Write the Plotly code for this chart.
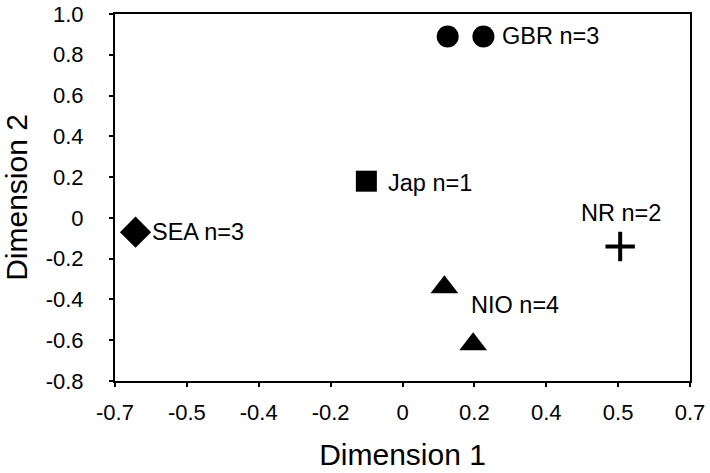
import plotly.graph_objects as go

# Data
gbr_x = [0.11, 0.197]
gbr_y = [0.89, 0.89]
jap_x = [-0.088]
jap_y = [0.18]
sea_x = [-0.65]
sea_y = [-0.07]
nio_x = [0.102, 0.172]
nio_y = [-0.34, -0.62]
nr_x = [0.53]
nr_y = [-0.14]

x_tickvals = [-0.7, -0.525, -0.35, -0.175, 0, 0.175, 0.35, 0.525, 0.7]
x_ticktext = ["-0.7", "-0.5", "-0.4", "-0.2", "0", "0.2", "0.4", "0.5", "0.7"]
y_tickvals = [1.0, 0.8, 0.6, 0.4, 0.2, 0, -0.2, -0.4, -0.6, -0.8]
y_ticktext = ["1.0", "0.8", "0.6", "0.4", "0.2", "0", "-0.2", "-0.4", "-0.6", "-0.8"]

labels = [
    ("GBR n=3", 0.237, 0.89, "left"),
    ("Jap n=1", -0.041, 0.17, "left"),
    ("SEA n=3", -0.615, -0.07, "left"),
    ("NIO n=4", 0.161, -0.425, "left"),
    ("NR n=2", 0.532, 0.025, "center"),
]

FONT = "Liberation Sans, Arial, Helvetica, sans-serif"

fig = go.Figure()
fig.add_trace(go.Scatter(x=gbr_x, y=gbr_y, mode="markers",
                         marker=dict(symbol="circle", size=22, color="black")))
fig.add_trace(go.Scatter(x=jap_x, y=jap_y, mode="markers",
                         marker=dict(symbol="square", size=21, color="black")))
fig.add_trace(go.Scatter(x=sea_x, y=sea_y, mode="markers",
                         marker=dict(symbol="diamond", size=24, color="black")))
fig.add_trace(go.Scatter(x=nio_x, y=nio_y, mode="markers",
                         marker=dict(symbol="triangle-up", size=24, color="black")))
fig.add_trace(go.Scatter(x=nr_x, y=nr_y, mode="markers",
                         marker=dict(symbol="cross-thin", size=21, color="black",
                                     line=dict(width=4, color="black"))))

for text, x, y, anchor in labels:
    fig.add_annotation(x=x, y=y, xref="x", yref="y", text=text, showarrow=False,
                       xanchor=anchor, yanchor="middle",
                       font=dict(size=23.5, color="black", family=FONT))

fig.update_layout(
    width=710, height=473,
    margin=dict(l=115, r=20, t=14, b=92),
    paper_bgcolor="white", plot_bgcolor="white",
    showlegend=False,
    font=dict(family=FONT, color="black"),
)
fig.update_xaxes(
    range=[-0.7, 0.7], tickvals=x_tickvals, ticktext=x_ticktext,
    showgrid=False, zeroline=False, showline=True, linecolor="black", linewidth=2,
    mirror=True, ticks="outside", ticklen=4, tickwidth=2, tickcolor="black",
    ticklabelstandoff=7, automargin=False,
    tickfont=dict(size=22), title=dict(text="Dimension 1", font=dict(size=30), standoff=20),
)
fig.update_yaxes(
    range=[-0.8, 1.0], tickvals=y_tickvals, ticktext=y_ticktext,
    showgrid=False, zeroline=False, showline=True, linecolor="black", linewidth=2,
    mirror=True, ticks="outside", ticklen=4, tickwidth=2, tickcolor="black",
    ticklabelstandoff=21, automargin=False,
    tickfont=dict(size=22), title=dict(text="Dimension 2", font=dict(size=30), standoff=18),
)

fig.write_html(
    "out.html",
    config={"displayModeBar": False},
    post_script="var d=document.getElementById('{plot_id}');d.style.position='fixed';d.style.left='0px';d.style.top='0px';document.body.style.margin='0';",
)
